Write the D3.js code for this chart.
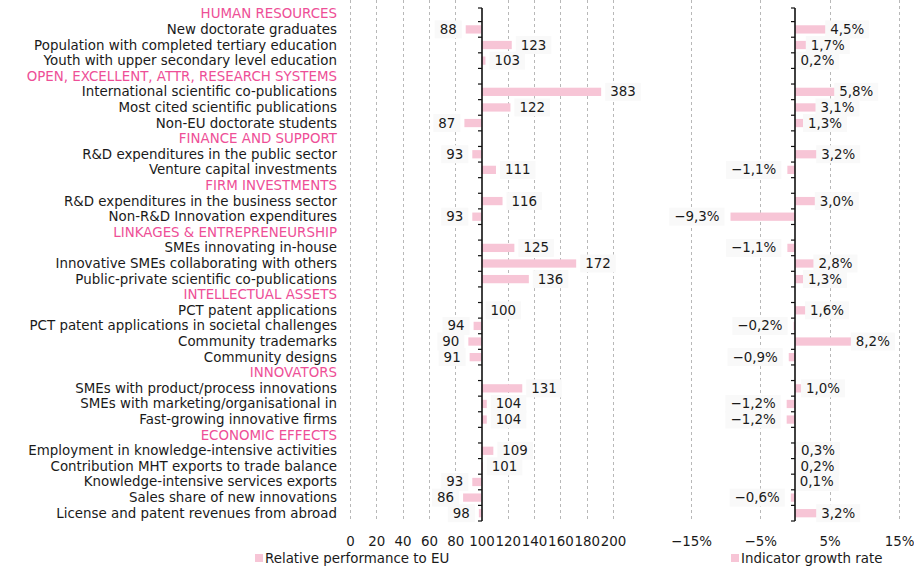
<!DOCTYPE html>
<html>
<head>
<meta charset="utf-8">
<script src="https://cdn.jsdelivr.net/npm/d3@7"></script>
<style>
  html, body { margin: 0; padding: 0; background: #ffffff; }
  svg { display: block; }
  text { font-family: "DejaVu Sans", sans-serif; font-size: 13.4px; fill: #1a1a1a; }
</style>
</head>
<body>
<svg id="chart" width="914" height="571"></svg>
<script>
// Row labels: section headers are flagged in isHeader
const rowLabels = [
  "HUMAN RESOURCES",
  "New doctorate graduates",
  "Population with completed tertiary education",
  "Youth with upper secondary level education",
  "OPEN, EXCELLENT, ATTR, RESEARCH SYSTEMS",
  "International scientific co-publications",
  "Most cited scientific publications",
  "Non-EU doctorate students",
  "FINANCE AND SUPPORT",
  "R&D expenditures in the public sector",
  "Venture capital investments",
  "FIRM INVESTMENTS",
  "R&D expenditures in the business sector",
  "Non-R&D Innovation expenditures",
  "LINKAGES & ENTREPRENEURSHIP",
  "SMEs innovating in-house",
  "Innovative SMEs collaborating with others",
  "Public-private scientific co-publications",
  "INTELLECTUAL ASSETS",
  "PCT patent applications",
  "PCT patent applications in societal challenges",
  "Community trademarks",
  "Community designs",
  "INNOVATORS",
  "SMEs with product/process innovations",
  "SMEs with marketing/organisational in",
  "Fast-growing innovative firms",
  "ECONOMIC EFFECTS",
  "Employment in knowledge-intensive activities",
  "Contribution MHT exports to trade balance",
  "Knowledge-intensive services exports",
  "Sales share of new innovations",
  "License and patent revenues from abroad"
];

const isHeader = [
  true, false, false, false,
  true, false, false, false,
  true, false, false,
  true, false, false,
  true, false, false, false,
  true, false, false, false, false,
  true, false, false, false,
  true, false, false, false, false, false
];

// Relative performance to EU (EU = 100); null on header rows
const relativePerformance = [
  null, 88, 123, 103,
  null, 383, 122, 87,
  null, 93, 111,
  null, 116, 93,
  null, 125, 172, 136,
  null, 100, 94, 90, 91,
  null, 131, 104, 104,
  null, 109, 101, 93, 86, 98
];

// Indicator growth rate in percent; null on header rows
const growthRate = [
  null, 4.5, 1.7, 0.2,
  null, 5.8, 3.1, 1.3,
  null, 3.2, -1.1,
  null, 3.0, -9.3,
  null, -1.1, 2.8, 1.3,
  null, 1.6, -0.2, 8.2, -0.9,
  null, 1.0, -1.2, -1.2,
  null, 0.3, 0.2, 0.1, -0.6, 3.2
];

const perfTicks = [0, 20, 40, 60, 80, 100, 120, 140, 160, 180, 200];
const growthTicks = [-15, -5, 5, 15];
const perfBaseline = 100;
const perfBarCap = 191;   // bars beyond the axis range stop short of the last gridline

const legendLabels = ["Relative performance to EU", "Indicator growth rate"];

const barColor = "#f7c5d6";
const headerColor = "#ee4f97";
const gridColor = "#b8b8b8";

const svg = d3.select("#chart");

const y = d3.scaleBand()
  .domain(d3.range(rowLabels.length))
  .range([6, 521])
  .paddingInner(0.47)
  .paddingOuter(0.235);
const rowStep = y.step();
const rowCenter = i => y(i) + y.bandwidth() / 2;

const xPerf = d3.scaleLinear().domain([0, 200]).range([350, 613]);
const xGrowth = d3.scaleLinear().domain([-15, 15]).range([691, 899]);

const gridTop = 0, gridBottom = 521;

// Dashed vertical gridlines
function gridlines(scale, ticks, skip) {
  svg.append("g").selectAll("line")
    .data(ticks.filter(t => t !== skip))
    .join("line")
    .attr("x1", d => Math.round(scale(d)) + 0.5)
    .attr("x2", d => Math.round(scale(d)) + 0.5)
    .attr("y1", gridTop)
    .attr("y2", gridBottom)
    .attr("stroke", gridColor)
    .attr("stroke-width", 1)
    .attr("stroke-dasharray", "3,3");
}
gridlines(xPerf, perfTicks, perfBaseline);
gridlines(xGrowth, growthTicks, 0);

// Row labels
svg.append("g").selectAll("text")
  .data(rowLabels)
  .join("text")
  .attr("x", 337)
  .attr("y", (d, i) => rowCenter(i))
  .attr("text-anchor", "end")
  .attr("dominant-baseline", "central")
  .style("fill", (d, i) => isHeader[i] ? headerColor : "#1a1a1a")
  .text(d => d);

// Label with a faint backing box
function valueLabel(g, x, yc, txt, anchor) {
  const t = g.append("text")
    .attr("x", x)
    .attr("y", yc)
    .attr("text-anchor", anchor)
    .attr("dominant-baseline", "central")
    .text(txt);
  const bb = t.node().getBBox();
  g.insert("rect", () => t.node())
    .attr("x", bb.x - 5)
    .attr("y", yc - 9)
    .attr("width", bb.width + 10)
    .attr("height", 18)
    .attr("fill", "#f9f9f9");
}

// Relative performance bars
const perfRows = relativePerformance
  .map((v, i) => ({ v, i }))
  .filter(d => d.v !== null);

const perfG = svg.append("g");
perfG.selectAll("rect")
  .data(perfRows)
  .join("rect")
  .attr("x", d => xPerf(Math.min(d.v, perfBaseline)))
  .attr("y", d => y(d.i))
  .attr("width", d => Math.abs(xPerf(Math.min(d.v, perfBarCap)) - xPerf(perfBaseline)))
  .attr("height", y.bandwidth())
  .attr("fill", barColor);

const perfLabels = svg.append("g");
perfRows.forEach(d => {
  const end = xPerf(Math.min(d.v, perfBarCap));
  if (d.v >= perfBaseline) {
    valueLabel(perfLabels.append("g"), end + 9, rowCenter(d.i), String(d.v), "start");
  } else {
    valueLabel(perfLabels.append("g"), end - 9, rowCenter(d.i), String(d.v), "end");
  }
});

// Growth rate bars
const growthRows = growthRate
  .map((v, i) => ({ v, i }))
  .filter(d => d.v !== null);

const growthG = svg.append("g");
growthG.selectAll("rect")
  .data(growthRows)
  .join("rect")
  .attr("x", d => xGrowth(Math.min(d.v, 0)))
  .attr("y", d => y(d.i))
  .attr("width", d => Math.abs(xGrowth(d.v) - xGrowth(0)))
  .attr("height", y.bandwidth())
  .attr("fill", barColor);

const fmtPct = v => (v < 0 ? "\u2212" : "") + Math.abs(v).toFixed(1).replace(".", ",") + "%";
const growthLabels = svg.append("g");
growthRows.forEach(d => {
  const end = xGrowth(d.v);
  if (d.v >= 0) {
    valueLabel(growthLabels.append("g"), end + 4, rowCenter(d.i), fmtPct(d.v), "start");
  } else {
    valueLabel(growthLabels.append("g"), end - 11, rowCenter(d.i), fmtPct(d.v), "end");
  }
});

// Category axes at the baselines, ticks on band boundaries
function categoryAxis(x) {
  const g = svg.append("g");
  const top = y.range()[0] + 2, bottom = y.range()[1];
  g.append("line")
    .attr("x1", x).attr("x2", x)
    .attr("y1", top).attr("y2", bottom)
    .attr("stroke", "#111").attr("stroke-width", 1.6);
  const bounds = d3.range(rowLabels.length + 1).map(k => y.range()[0] + k * rowStep);
  g.selectAll("line.tick")
    .data(bounds.slice(0))
    .join("line")
    .attr("class", "tick")
    .attr("x1", x - 4).attr("x2", x)
    .attr("y1", d => Math.min(Math.max(d, top), bottom))
    .attr("y2", d => Math.min(Math.max(d, top), bottom))
    .attr("stroke", "#111").attr("stroke-width", 1.2);
}
categoryAxis(Math.round(xPerf(perfBaseline)));
categoryAxis(Math.round(xGrowth(0)));

// Value axes (labels only)
const axisY = 541;
const perfAxis = d3.axisBottom(xPerf).tickValues(perfTicks).tickSize(0).tickPadding(0);
svg.append("g")
  .attr("transform", `translate(0,${axisY - 7})`)
  .call(perfAxis)
  .call(g => g.select(".domain").remove())
  .call(g => g.selectAll("text").attr("dy", null).attr("y", 7)
    .attr("dominant-baseline", "central")
    .style("font-family", "DejaVu Sans, sans-serif").style("font-size", "13.4px").style("fill", "#1a1a1a"));

const growthAxis = d3.axisBottom(xGrowth).tickValues(growthTicks).tickSize(0).tickPadding(0)
  .tickFormat(v => (v < 0 ? "\u2212" : "") + Math.abs(v) + "%");
svg.append("g")
  .attr("transform", `translate(0,${axisY - 7})`)
  .call(growthAxis)
  .call(g => g.select(".domain").remove())
  .call(g => g.selectAll("text").attr("dy", null).attr("y", 7)
    .attr("dominant-baseline", "central")
    .style("font-family", "DejaVu Sans, sans-serif").style("font-size", "13.4px").style("fill", "#1a1a1a"));

// Legends
const legendPos = [{ x: 255, label: legendLabels[0] }, { x: 731, label: legendLabels[1] }];
const lg = svg.append("g").selectAll("g").data(legendPos).join("g");
lg.append("rect")
  .attr("x", d => d.x).attr("y", 554)
  .attr("width", 8).attr("height", 8)
  .attr("fill", barColor);
lg.append("text")
  .attr("x", d => d.x + 10).attr("y", 558)
  .attr("dominant-baseline", "central")
  .text(d => d.label);
</script>
</body>
</html>
